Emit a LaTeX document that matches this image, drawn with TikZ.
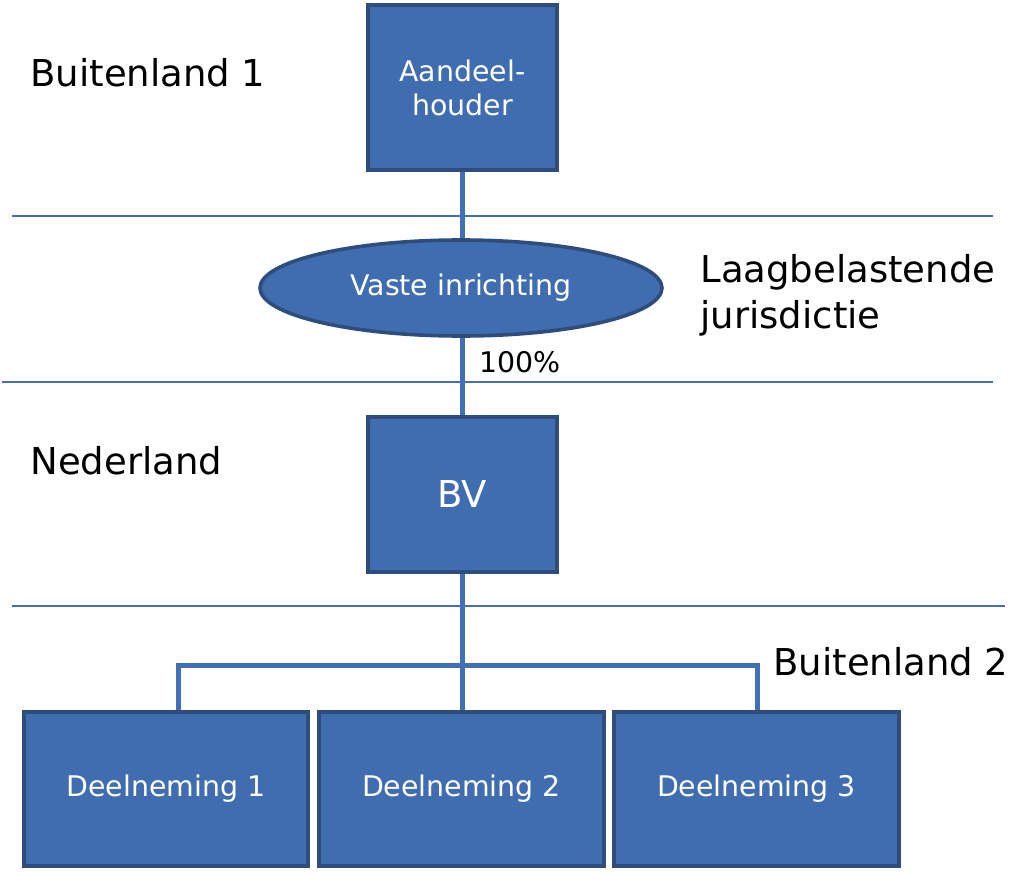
\documentclass[tikz,border=0pt]{standalone}
\usepackage{fontspec}
\setmainfont{DejaVu Sans}
\usetikzlibrary{shapes.geometric}

\definecolor{boxblue}{HTML}{406DAF}
\definecolor{boxedge}{HTML}{2E4D7D}
\definecolor{lineblue}{HTML}{4170B6}

\tikzset{
  entity/.style={draw=boxedge, line width=1.8pt, fill=boxblue, text=white,
    inner sep=0pt, align=center, font=\fontsize{14.2}{17}\selectfont},
  bigtext/.style={inner sep=0pt, anchor=west, align=left,
    font=\fontsize{18.5}{23}\selectfont},
  link/.style={draw=lineblue, line width=2.5pt},
  border/.style={draw=lineblue, line width=0.8pt}
}

\begin{document}
\begin{tikzpicture}[x=0.5pt, y=-0.5pt]
\useasboundingbox (0,0) rectangle (1013,872);

% grenzen tussen de landen
\draw[border] (12,216) -- (993,216);
\draw[border] (2,382) -- (993,382);
\draw[border] (12,606) -- (1005,606);

\node[bigtext] (bl1) at (30,73) {Buitenland 1};
\node[bigtext] (lbj) at (700,295) {Laagbelastende\\jurisdictie};
\node[bigtext] (nl) at (30,461) {Nederland};
\node[bigtext] (bl2) at (773,662) {Buitenland 2};

\node[entity, minimum width=94.5pt, minimum height=82.5pt] (ah) at (462.5,87.5) {Aandeel-\\houder};
\node[entity, ellipse, minimum width=201pt, minimum height=48pt] (vi) at (461,288) {Vaste inrichting};
\node[entity, minimum width=94.5pt, minimum height=77.5pt, font=\fontsize{18.5}{22}\selectfont] (bv) at (462.5,494.5) {BV};

\node[entity, minimum width=142pt, minimum height=77pt] (d1) at (166,789) {Deelneming 1};
\node[entity, minimum width=142.5pt, minimum height=77pt] (d2) at (461.5,789) {Deelneming 2};
\node[entity, minimum width=142.5pt, minimum height=77pt] (d3) at (756.5,789) {Deelneming 3};

\node[inner sep=0pt, font=\fontsize{14.2}{17}\selectfont] (pct) at (520,362) {100\%};

% verbindingen
\coordinate (s1) at (178,665);
\coordinate (s2) at (462,665);
\coordinate (s3) at (757,665);
\draw[link] (ah.south -| s2) -- (vi.north -| s2);
\draw[link] (vi.south -| s2) -- (bv.north -| s2);
\draw[link] (bv.south -| s2) -- (d2.north -| s2);
\draw[link] (s1 |- d1.north) -- (s1) -- (s3) -- (s3 |- d3.north);
\end{tikzpicture}
\end{document}
